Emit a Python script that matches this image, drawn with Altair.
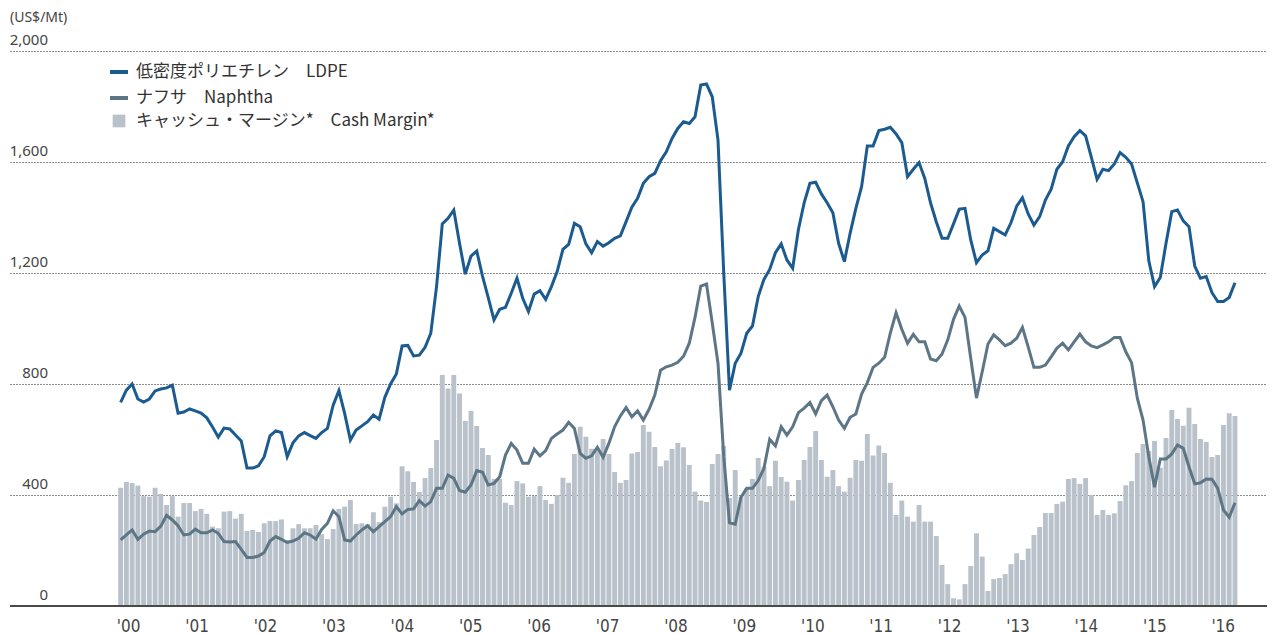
import altair as alt
import pandas as pd

# Monthly series, Jan 2000 - Mar 2016 (US$/Mt)
ldpe = [734, 778, 800, 746, 735, 746, 775, 782, 786, 796, 695, 699,
        710, 703, 695, 678, 645, 609, 641, 638, 616, 595, 497, 497,
        505, 538, 613, 631, 625, 538, 588, 613, 625, 614, 604, 625,
        640, 724, 776, 694, 598, 634, 649, 664, 688, 673, 752, 800,
        836, 937, 939, 901, 904, 932, 983, 1151, 1377, 1397, 1427, 1307,
        1196, 1261, 1279, 1189, 1111, 1031, 1069, 1076, 1127, 1181, 1109, 1061,
        1124, 1136, 1105, 1151, 1205, 1285, 1303, 1379, 1367, 1305, 1273, 1313,
        1297, 1309, 1325, 1334, 1385, 1437, 1469, 1523, 1547, 1559, 1605, 1637,
        1685, 1721, 1745, 1739, 1763, 1877, 1881, 1835, 1679, 1200, 778, 875,
        911, 983, 1009, 1115, 1177, 1213, 1273, 1305, 1247, 1217, 1357, 1453,
        1523, 1527, 1485, 1453, 1417, 1307, 1241, 1343, 1433, 1511, 1658, 1658,
        1713, 1718, 1725, 1701, 1670, 1547, 1574, 1598, 1541, 1453, 1385, 1325,
        1325, 1377, 1430, 1433, 1319, 1237, 1265, 1280, 1361, 1349, 1337, 1381,
        1441, 1471, 1413, 1373, 1403, 1463, 1502, 1574, 1601, 1658, 1691, 1713,
        1694, 1617, 1538, 1574, 1569, 1593, 1634, 1617, 1593, 1525, 1457, 1244,
        1151, 1184, 1307, 1421, 1427, 1388, 1367, 1225, 1181, 1187, 1129, 1097,
        1097, 1112, 1165]

naphtha = [238, 256, 274, 240, 259, 270, 268, 288, 327, 310, 289, 256,
           259, 277, 264, 264, 274, 262, 232, 231, 232, 204, 175, 175,
           180, 193, 234, 250, 240, 229, 234, 244, 264, 256, 241, 276,
           298, 343, 322, 238, 234, 256, 274, 289, 268, 286, 304, 322,
           358, 332, 348, 350, 380, 360, 376, 424, 424, 472, 460, 416,
           410, 436, 488, 482, 436, 442, 466, 544, 586, 562, 514, 514,
           565, 541, 560, 604, 620, 634, 662, 640, 550, 532, 541, 572,
           536, 586, 646, 685, 715, 682, 703, 670, 709, 760, 850, 862,
           868, 878, 900, 947, 1040, 1153, 1160, 1020, 875, 538, 300, 295,
           392, 424, 424, 452, 496, 601, 577, 646, 616, 646, 697, 713,
           733, 692, 740, 760, 718, 670, 640, 680, 692, 764, 805, 860,
           875, 896, 983, 1057, 997, 947, 979, 952, 952, 890, 884, 908,
           959, 1033, 1081, 1040, 893, 749, 844, 944, 977, 959, 938, 947,
           965, 1004, 934, 860, 860, 868, 898, 929, 947, 923, 952, 980,
           952, 937, 931, 941, 952, 968, 968, 916, 877, 749, 670, 538,
           428, 530, 530, 548, 580, 568, 502, 440, 444, 458, 457, 424,
           346, 320, 372]

cash = [426, 447, 443, 434, 396, 394, 426, 404, 364, 396, 322, 371,
        371, 342, 350, 332, 286, 280, 340, 342, 315, 332, 270, 274,
        267, 298, 306, 306, 312, 238, 280, 295, 280, 280, 292, 259,
        241, 277, 350, 358, 382, 295, 298, 295, 338, 302, 358, 394,
        370, 504, 486, 447, 411, 461, 497, 598, 832, 784, 832, 766,
        667, 703, 649, 569, 544, 458, 458, 372, 364, 450, 442, 394,
        396, 432, 382, 368, 400, 462, 444, 548, 646, 610, 567, 565,
        602, 548, 483, 444, 454, 550, 555, 652, 628, 573, 504, 524,
        566, 587, 572, 508, 412, 380, 375, 512, 548, 577, 389, 490,
        394, 424, 458, 533, 502, 432, 523, 465, 448, 380, 454, 526,
        573, 631, 526, 466, 490, 432, 412, 462, 526, 523, 620, 542,
        578, 551, 444, 328, 380, 322, 304, 364, 304, 304, 252, 148,
        79, 28, 24, 79, 144, 262, 178, 54, 97, 101, 115, 151,
        190, 166, 207, 256, 285, 335, 335, 368, 376, 458, 461, 440,
        461, 400, 328, 346, 328, 334, 378, 435, 450, 551, 584, 559,
        595, 498, 605, 706, 674, 650, 714, 656, 602, 591, 537, 544,
        652, 695, 685]

year_labels = ["'00", "'01", "'02", "'03", "'04", "'05", "'06", "'07", "'08",
               "'09", "'10", "'11", "'12", "'13", "'14", "'15", "'16"]
y_ticks = [0, 400, 800, 1200, 1600, 2000]
y_tick_labels = ["0", "400", "800", "1,200", "1,600", "2,000"]
legend_labels = ["低密度ポリエチレン　LDPE", "ナフサ　Naphtha", "キャッシュ・マージン*　Cash Margin*"]

C_LDPE = "#1b5b8f"
C_NAP = "#5d7686"
C_BAR = "#b9c2ca"
C_TXT = "#444444"

n = len(ldpe)
df = pd.DataFrame({"m": list(range(n)), "ldpe": ldpe, "naphtha": naphtha, "cash": cash})

W, H = 1257, 555
XMIN = -18.39
XMAX = XMIN + W / 5.79
xs = alt.Scale(domain=[XMIN, XMAX], nice=False, zero=False)
ys = alt.Scale(domain=[0, 2000], nice=False)

xenc = alt.X("m:Q", scale=xs, axis=None)

base = alt.Chart(df)

bars = base.mark_bar(size=4.9, color=C_BAR).encode(
    x=xenc,
    y=alt.Y("cash:Q", scale=ys, axis=alt.Axis(
        values=[400, 800, 1200, 1600, 2000], grid=True, gridDash=[1, 2],
        gridColor="#1a1a1a", gridWidth=1.2, gridOpacity=1, labels=False,
        ticks=False, domain=False, title=None)),
)
nap_line = base.mark_line(color=C_NAP, strokeWidth=3).encode(
    x=xenc, y=alt.Y("naphtha:Q", scale=ys))
ldpe_line = base.mark_line(color=C_LDPE, strokeWidth=3).encode(
    x=xenc, y=alt.Y("ldpe:Q", scale=ys))

# baseline
base_rule = alt.Chart(pd.DataFrame({"v": [0]})).mark_rule(
    color="#4a4a4a", strokeWidth=2).encode(
    y=alt.Y("v:Q", scale=ys), x=alt.value(0), x2=alt.value(W + 8))

# y tick labels (inside the plot, above the gridlines)
ylab = alt.Chart(pd.DataFrame({"v": y_ticks, "t": y_tick_labels})).mark_text(
    align="right", baseline="bottom", dy=-3, fontSize=15, font="Noto Sans",
    color=C_TXT).encode(y=alt.Y("v:Q", scale=ys), x=alt.value(38), text="t:N")

unit = alt.Chart(pd.DataFrame({"t": ["(US$/Mt)"]})).mark_text(
    align="left", baseline="middle", fontSize=14, font="Noto Sans",
    color=C_TXT).encode(x=alt.value(0), y=alt.value(-33), text="t:N")

# x labels
xl_df = pd.DataFrame({"t": year_labels,
                      "p": [12 * k + 1.4 - 0.09 * k for k in range(len(year_labels))]})
xlab = alt.Chart(xl_df).mark_text(
    align="center", baseline="middle", fontSize=17,
    font="Liberation Sans Narrow, DejaVu Sans Condensed, sans-serif",
    color=C_TXT).encode(x=alt.X("p:Q", scale=xs), y=alt.value(H + 21), text="t:N")

# legend
def leg_text(i, yy):
    return alt.Chart(pd.DataFrame({"t": [legend_labels[i]]})).mark_text(
        align="left", baseline="middle", fontSize=17, font="Noto Sans CJK JP",
        color="#333333").encode(x=alt.value(126), y=alt.value(yy), text="t:N")

leg1 = alt.Chart(pd.DataFrame({"a": [0]})).mark_rule(
    color=C_LDPE, strokeWidth=4).encode(x=alt.value(100), x2=alt.value(118), y=alt.value(21))
leg2 = alt.Chart(pd.DataFrame({"a": [0]})).mark_rule(
    color=C_NAP, strokeWidth=4).encode(x=alt.value(100), x2=alt.value(118), y=alt.value(47))
leg3 = alt.Chart(pd.DataFrame({"a": [0]})).mark_square(
    color=C_BAR, size=160, opacity=1).encode(x=alt.value(109), y=alt.value(70))

chart = alt.layer(
    bars, base_rule, nap_line, ldpe_line, ylab, unit, xlab,
    leg1, leg2, leg3, leg_text(0, 21), leg_text(1, 47), leg_text(2, 70)
).properties(
    width=W, height=H,
    autosize=alt.AutoSizeParams(type="none"),
    padding={"left": 2, "top": 43, "right": 0, "bottom": 30},
).configure_view(stroke=None)

chart.save("out.html", embed_options={"renderer": "svg", "actions": False})
